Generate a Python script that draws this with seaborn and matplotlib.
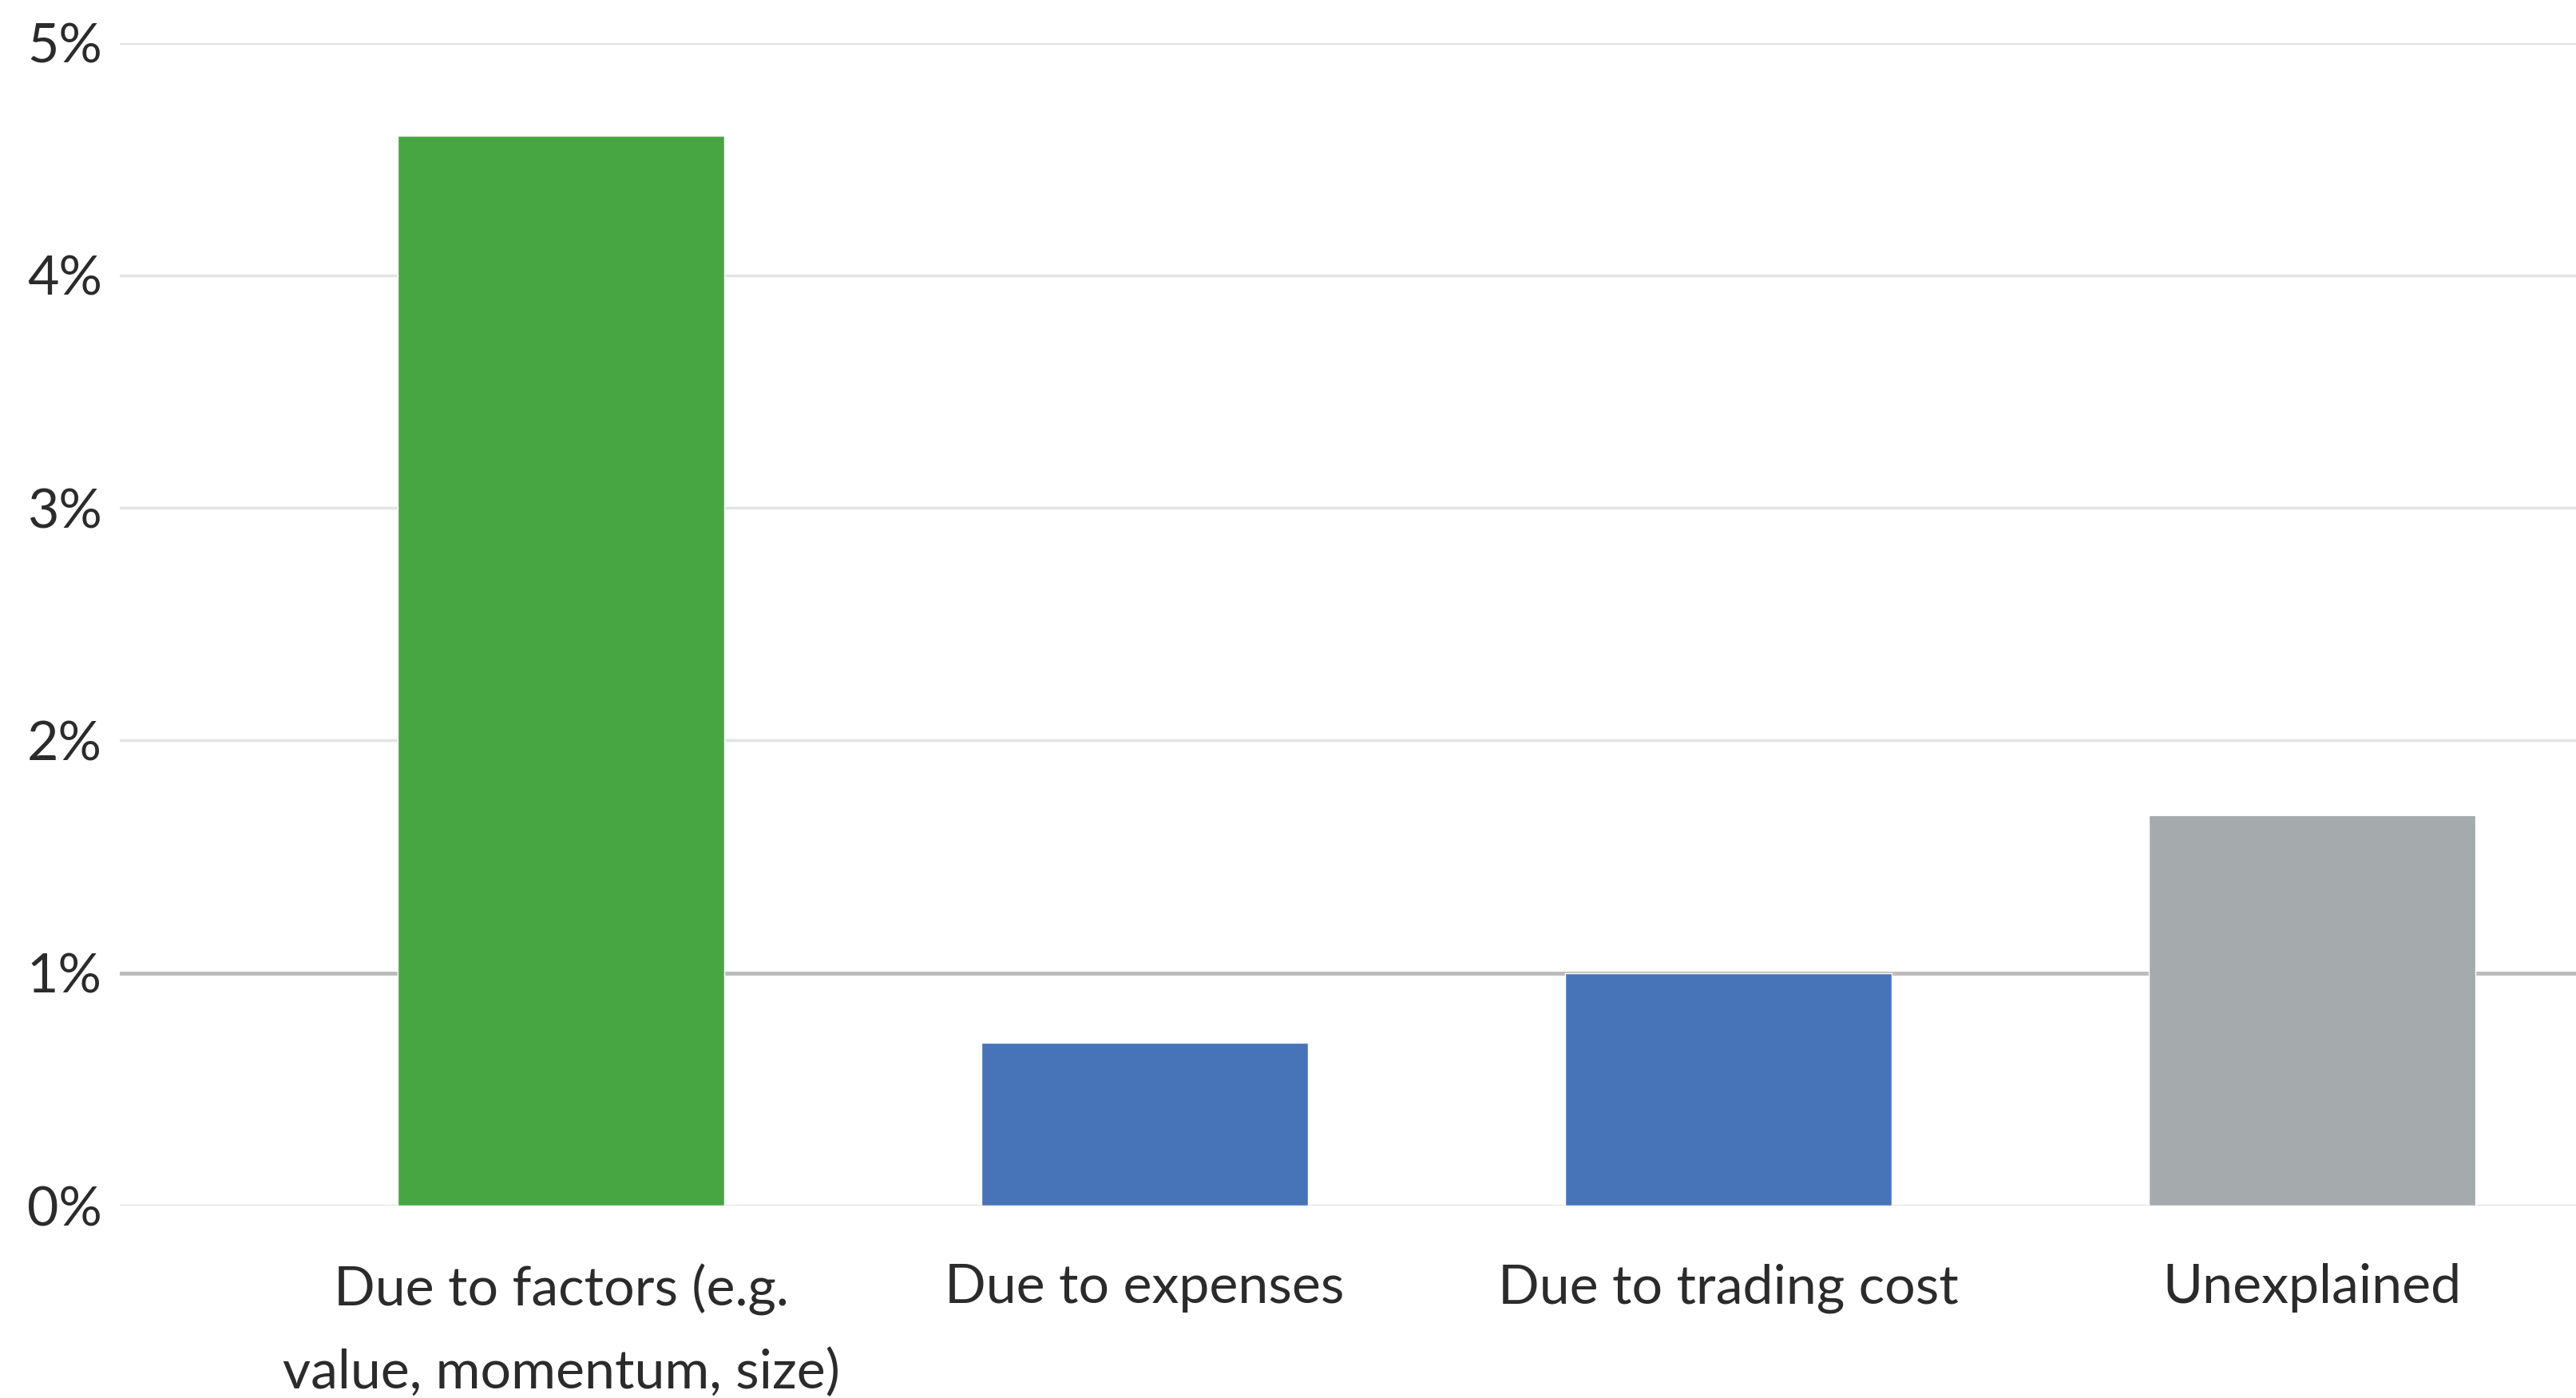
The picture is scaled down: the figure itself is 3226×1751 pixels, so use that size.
import matplotlib
matplotlib.use("Agg")
import matplotlib.pyplot as plt
import seaborn as sns
import pandas as pd

categories = ["Due to factors (e.g.\nvalue, momentum, size)", "Due to expenses",
              "Due to trading cost", "Unexplained"]
values = [4.6, 0.7, 1.0, 1.68]
colors = ["#48A642", "#4774B9", "#4774B9", "#A5AAAD"]
yticks = [0, 1, 2, 3, 4, 5]
ytick_labels = ["0%", "1%", "2%", "3%", "4%", "5%"]

sns.set_style("white")
plt.rcParams['font.family'] = ['Lato', 'DejaVu Sans']

df = pd.DataFrame({"cat": categories, "val": values})

fig = plt.figure(figsize=(32.26, 17.51), dpi=100)
ax = fig.add_axes([0.0465, 0.1376, 0.9535, 0.8318])

sns.barplot(data=df, x="cat", y="val", hue="cat", palette=colors, legend=False,
            width=0.56, saturation=1, ax=ax, zorder=3)

ax.set_ylim(0, 5)
ax.set_xlim(-0.756, 3.452)
ax.set_yticks(yticks)
ax.set_yticklabels(ytick_labels)
ax.set_xlabel("")
ax.set_ylabel("")
for y in yticks:
    if y == 1:
        ax.axhline(y, color="#BBBBBB", lw=3.5, zorder=1)
    else:
        ax.axhline(y, color="#E3E3E3", lw=2.5, zorder=1)
for s in ax.spines.values():
    s.set_visible(False)
ax.tick_params(axis="y", length=0, pad=16, labelsize=49, labelcolor="#2b2b2b")
ax.tick_params(axis="x", length=0, pad=52, labelsize=49, labelcolor="#2b2b2b")
for lab in ax.get_xticklabels():
    lab.set_linespacing(1.8)

fig.savefig("out.png", dpi=100, facecolor="white")
